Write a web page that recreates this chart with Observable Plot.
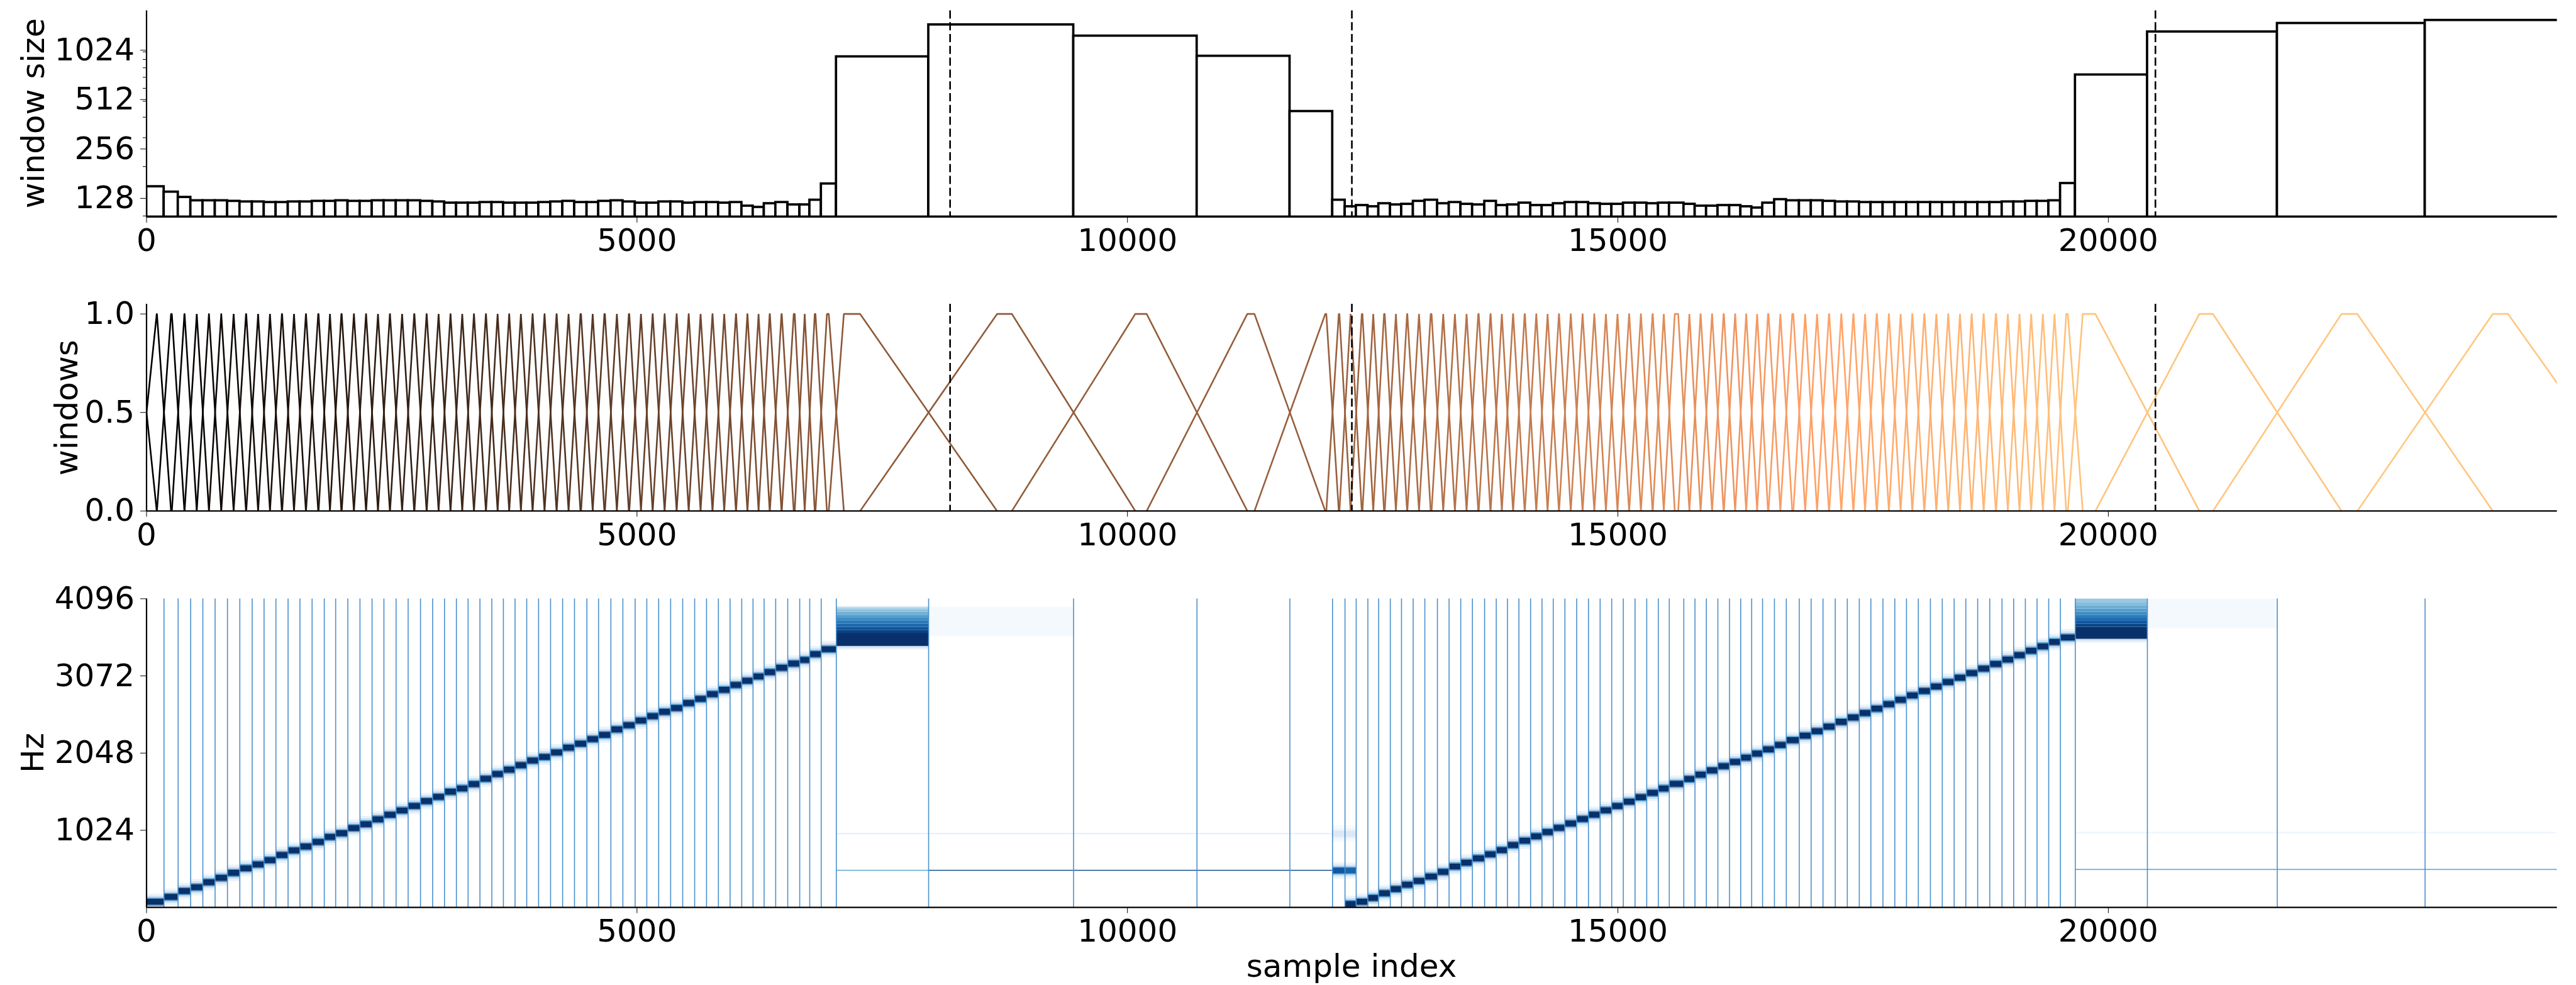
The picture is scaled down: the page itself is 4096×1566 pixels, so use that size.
<!DOCTYPE html>
<html><head><meta charset="utf-8">
<script src="https://cdn.jsdelivr.net/npm/d3@7"></script>
<script src="https://cdn.jsdelivr.net/npm/@observablehq/plot@0.6"></script>
<style>
html,body{margin:0;padding:0;background:#fff;}
#root{position:relative;width:4096px;height:1566px;overflow:hidden;font-family:"DejaVu Sans",sans-serif;background:#fff;}
.panel{position:absolute;left:0;}
.lab{position:absolute;white-space:nowrap;font-size:50px;line-height:1;color:#000;font-family:"DejaVu Sans",sans-serif;}
</style></head><body><div id="root"></div><script>
// ---------------- data ----------------
const xMax = 24576;
const xTicks = [0, 5000, 10000, 15000, 20000];
const sizeTicks = [128, 256, 512, 1024];
const sizeMinorTicks = [100, 200, 300, 400, 500, 600, 700, 800, 900, 1000];
const windowTicks = [0, 0.5, 1];
const hzTicks = [1024, 2048, 3072, 4096];
const transitions = [8192, 12288, 20480];

// segment boundaries (sample index)
const edges = [
  0, 178, 322, 450, 574, 699, 825, 951, 1077, 1198, 1319, 1443, 1564, 1688, 1812, 1928, 2052, 2176, 2299, 2420,
  2544, 2667, 2793, 2917, 3038, 3159, 3278, 3399, 3520, 3638, 3757, 3876, 3997, 4119, 4242, 4363, 4489, 4608, 4734, 4856,
  4981, 5100, 5221, 5343, 5466, 5588, 5709, 5830, 5949, 6068, 6183, 6296, 6414, 6537, 6659, 6761, 6878, 7032,
  7973, 9451, 10709, 11656, 12091,
  12218, 12332, 12451, 12561, 12680, 12794, 12913, 13032, 13160, 13279, 13398, 13517, 13641, 13760, 13874, 13991, 14110, 14226, 14341, 14460,
  14580, 14700, 14819, 14937, 15055, 15175, 15294, 15412, 15524,
  15672, 15786, 15902, 16019, 16138, 16252, 16364, 16475, 16596, 16717, 16849, 16970, 17091, 17216, 17339, 17461, 17579, 17702, 17823, 17942,
  18063, 18186, 18307, 18428, 18547, 18668, 18791, 18916,
  19035, 19154, 19273, 19392, 19511,
  19663, 20398, 21722, 23229, 24788
];

// window size of each segment (top panel)
const windowSizes = [
  151, 140, 130, 124, 124, 124, 123, 122, 122, 121, 121, 122, 122, 123, 123, 124, 123, 123, 124, 124,
  124, 124, 123, 122, 120, 120, 120, 121, 121, 120, 120, 120, 121, 122, 123, 121, 121, 123, 124, 122,
  120, 120, 122, 122, 120, 121, 121, 120, 121, 115, 113, 119, 121, 117, 117, 125, 157,
  935, 1464, 1251, 943, 434,
  125, 114, 116, 114, 119, 117, 118, 123, 125, 119, 121, 118, 117, 123, 116, 117, 120, 116, 116, 119,
  121, 121, 119, 118, 118, 120, 120, 119, 120,
  120, 118, 115, 115, 116, 116, 114, 112, 120, 126, 124, 124, 124, 123, 122, 122, 121, 121, 121, 121,
  121, 121, 121, 121, 121, 121, 121, 121,
  122, 122, 123, 123, 124,
  158, 725, 1326, 1494, 1559
];

// half length of the cross-fade ramp at a boundary (where it was readable)
const rampAtEdge = {0: 104, 7973: 698, 9451: 629, 10709: 513, 11656: 361, 20398: 530, 21722: 655, 23229: 690, 24788: 713};

// chirp frequency (Hz) seen in each segment of the spectrogram (null: none)
const chirpHz = [
  71, 136, 213, 264, 330, 389, 454, 517, 568, 625, 693, 753, 804, 866, 932, 980, 1051, 1102, 1165, 1227,
  1284, 1344, 1406, 1463, 1531, 1576, 1633, 1704, 1767, 1824, 1883, 1946, 1994, 2054, 2116, 2170, 2230, 2287, 2358, 2414,
  2477, 2534, 2591, 2642, 2707, 2764, 2826, 2883, 2948, 3005, 3062, 3119, 3176, 3232, 3281, 3357, 3423,
  null, null, null, null, null,
  null, 43, 71, 122, 185, 241, 298, 349, 406, 469, 540, 591, 648, 702, 758, 824, 882, 940, 996, 1053,
  1111, 1170, 1228, 1286, 1343, 1401, 1460, 1517, 1574,
  1637, 1701, 1757, 1814, 1871, 1928, 1984, 2038, 2095, 2153, 2215, 2277, 2336, 2396, 2457, 2516, 2575, 2633, 2693, 2751,
  2810, 2869, 2929, 2988, 3046, 3106, 3165, 3226,
  3286, 3343, 3402, 3460, 3518,
  3580, null, null, null, null
];

// short-window tone blocks: [x1, x2, Hz, level]
const toneBlocks = [[12091, 12218, 486, 0.85], [12218, 12332, 486, 0.8], [12091, 12332, 975, 0.14]];
// long-window tone lines: [x1, x2, Hz, level]
const toneLines = [[7032, 7973, 489, 0.55], [7973, 12091, 489, 0.92], [7032, 12091, 975, 0.1], [19663, xMax, 500, 0.6], [19663, xMax, 990, 0.05]];
// smeared chirp energy in long windows: [x1, x2, HzLow, HzHigh, level]
const bandRows = [
  [7032, 7973, 3420, 3445, 0.08], [7032, 7973, 3445, 3466, 0.25], [7032, 7973, 3466, 3640, 1],
  [7032, 7973, 3640, 3680, 0.93], [7032, 7973, 3680, 3720, 0.86], [7032, 7973, 3720, 3760, 0.79],
  [7032, 7973, 3760, 3800, 0.72], [7032, 7973, 3800, 3840, 0.65], [7032, 7973, 3840, 3880, 0.57],
  [7032, 7973, 3880, 3920, 0.49], [7032, 7973, 3920, 3950, 0.41], [7032, 7973, 3950, 3980, 0.33],
  [7032, 7973, 3980, 3995, 0.12],
  [7973, 9451, 3600, 3985, 0.015],
  [19663, 20398, 3510, 3540, 0.08], [19663, 20398, 3540, 3560, 0.25], [19663, 20398, 3560, 3720, 1],
  [19663, 20398, 3720, 3760, 0.92], [19663, 20398, 3760, 3800, 0.85], [19663, 20398, 3800, 3840, 0.78],
  [19663, 20398, 3840, 3880, 0.71], [19663, 20398, 3880, 3920, 0.64], [19663, 20398, 3920, 3960, 0.57],
  [19663, 20398, 3960, 4000, 0.5], [19663, 20398, 4000, 4040, 0.44], [19663, 20398, 4040, 4096, 0.38],
  [20398, 21722, 3700, 4096, 0.015]
];

// ---------------- layout / style ----------------
const W = 4096, ML = 232.5, MR = 30.4;
const FS = 50, TICK = 9.5, PAD = 9.5, MINOR = 5.5, SPINE = 2.2;
const FONT = "DejaVu Sans";
const fmtInt = d3.format("d");
const dash = {stroke: "black", strokeWidth: 2.6, strokeDasharray: "13 5.8"};
const blockProfile = [[-110, -80, 0.06], [-80, -55, 0.22], [-55, -40, 0.6], [-40, 40, 1], [40, 55, 0.6], [55, 80, 0.22], [80, 110, 0.06]];

function copper(t) {
  const r = Math.min(1, 1.25 * t), g = 0.7812 * t, b = 0.4975 * t;
  return `rgb(${Math.round(r * 255)},${Math.round(g * 255)},${Math.round(b * 255)})`;
}
const blues = v => v <= 0 ? "white" : d3.interpolateBlues(v);

const segs = windowSizes.map((s, i) => ({x1: edges[i], x2: edges[i + 1], size: s, i}));
const widths = segs.map(s => s.x2 - s.x1);
const ramps = edges.map((e, k) => {
  if (rampAtEdge[e] !== undefined) return rampAtEdge[e];
  const wl = widths[k - 1], wr = widths[k];
  if (wl === undefined) return wr / 2;
  if (wr === undefined) return wl / 2;
  return Math.min(wl, wr) / 2;
});

// window outlines
const N = segs.length;
const winPts = [];
winPts.push({x: edges[0] - 4 * ramps[0], y: 1, w: -1, c: copper(0)},
            {x: edges[0] - ramps[0], y: 1, w: -1, c: copper(0)},
            {x: edges[0] + ramps[0], y: 0, w: -1, c: copper(0)});
segs.forEach((s, k) => {
  const c = copper(k / (N - 1));
  const a = edges[k], b = edges[k + 1], ra = ramps[k], rb = ramps[k + 1];
  [[a - ra, 0], [a + ra, 1], [b - rb, 1], [b + rb, 0]].forEach(([x, y]) => winPts.push({x, y, w: k, c}));
});

// spectrogram cells
const cells = [{x1: 0, x2: xMax, y1: 0, y2: 4096, v: 0}];
segs.forEach((s, k) => {
  const f = chirpHz[k];
  if (f == null) return;
  blockProfile.forEach(([a, b, v]) => cells.push({x1: s.x1, x2: s.x2, y1: Math.max(0, f + a), y2: f + b, v}));
});
toneBlocks.forEach(([x1, x2, f, lv]) => blockProfile.forEach(([a, b, v]) => cells.push({x1, x2, y1: f + a, y2: f + b, v: v * lv})));
toneLines.forEach(([x1, x2, f, lv]) => {
  cells.push({x1, x2, y1: f - 14, y2: f + 14, v: lv * 0.12});
  cells.push({x1, x2, y1: f - 5, y2: f + 5, v: lv});
});
bandRows.forEach(([x1, x2, y1, y2, v]) => cells.push({x1, x2, y1, y2, v}));

// ---------------- drawing ----------------
const root = document.getElementById("root");
function place(svg, top) {
  const d = document.createElement("div");
  d.className = "panel";
  d.style.top = top + "px";
  d.appendChild(svg);
  root.appendChild(d);
}
function label(text, cx, cy, rotate) {
  const d = document.createElement("div");
  d.className = "lab";
  d.textContent = text;
  d.style.left = cx + "px";
  d.style.top = cy + "px";
  d.style.transform = "translate(-50%,-50%)" + (rotate ? " rotate(-90deg)" : "");
  root.appendChild(d);
}
const baseStyle = {fontFamily: FONT, background: "transparent", overflow: "visible"};
const xAxis = () => Plot.axisX({ticks: xTicks, tickFormat: fmtInt, tickSize: TICK, tickPadding: PAD, fontSize: FS, label: null});

// top: window size
const yMin1 = 98.6, yMax1 = 1785;
const p1 = Plot.plot({
  width: W, height: 420, marginLeft: ML, marginRight: MR, marginTop: 16.4, marginBottom: 75.6,
  style: baseStyle,
  x: {domain: [0, xMax]},
  y: {type: "log", domain: [yMin1, yMax1]},
  marks: [
    Plot.rect(segs, {x1: "x1", x2: "x2", y1: yMin1, y2: "size", fill: "white", stroke: "black", strokeWidth: 3.7, clip: true}),
    Plot.ruleX(transitions, dash),
    Plot.ruleX([0], {stroke: "black", strokeWidth: SPINE}),
    Plot.ruleY([yMin1], {stroke: "black", strokeWidth: SPINE}),
    xAxis(),
    Plot.axisY({ticks: sizeTicks, tickFormat: fmtInt, tickSize: TICK, tickPadding: PAD, fontSize: FS, label: null}),
    Plot.axisY({ticks: sizeMinorTicks, tickFormat: () => "", tickSize: MINOR, label: null})
  ]
});
place(p1, 0);

// middle: windows
const p2 = Plot.plot({
  width: W, height: 520, marginLeft: ML, marginRight: MR, marginTop: 63, marginBottom: 128.1,
  style: baseStyle,
  x: {domain: [0, xMax]},
  y: {domain: [0, 1.05]},
  color: {type: "identity"},
  marks: [
    Plot.line(winPts, {x: "x", y: "y", z: "w", stroke: "c", strokeWidth: 2.6, strokeLinejoin: "miter", clip: true}),
    Plot.ruleX(transitions, dash),
    Plot.ruleX([0], {stroke: "black", strokeWidth: SPINE}),
    Plot.ruleY([0], {stroke: "black", strokeWidth: SPINE}),
    xAxis(),
    Plot.axisY({ticks: windowTicks, tickFormat: d3.format(".1f"), tickSize: TICK, tickPadding: PAD, fontSize: FS, label: null})
  ]
});
place(p2, 420);

// bottom: spectrogram
const p3 = Plot.plot({
  width: W, height: 626, marginLeft: ML, marginRight: MR, marginTop: 11.4, marginBottom: 123.8,
  style: baseStyle,
  x: {domain: [0, xMax]},
  y: {domain: [0, 4096]},
  color: {type: "identity"},
  marks: [
    Plot.rect(cells, {x1: "x1", x2: "x2", y1: "y1", y2: "y2", fill: d => blues(d.v), clip: true}),
    Plot.ruleX(edges.filter(e => e > 0 && e < xMax), {stroke: "#4a90cd", strokeWidth: 1.6}),
    Plot.ruleX([0], {stroke: "black", strokeWidth: SPINE}),
    Plot.ruleY([0], {stroke: "black", strokeWidth: SPINE}),
    xAxis(),
    Plot.axisY({ticks: hzTicks, tickFormat: fmtInt, tickSize: TICK, tickPadding: PAD, fontSize: FS, label: null})
  ]
});
place(p3, 940);

label("window size", 53, 180.4, true);
label("windows", 105.8, 647.5, true);
label("Hz", 52, 1196.8, true);
label("sample index", 2149, 1536, false);
</script></body></html>
